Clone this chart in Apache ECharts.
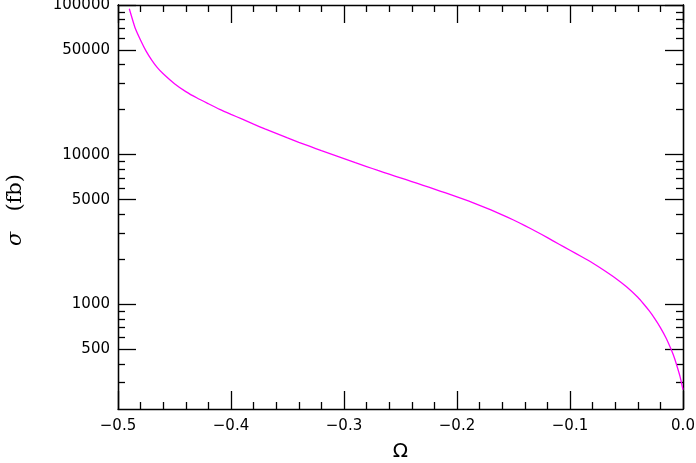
<!DOCTYPE html>
<html>
<head>
<meta charset="utf-8">
<script src="https://cdn.jsdelivr.net/npm/echarts@6/dist/echarts.min.js"></script>
<style>
  html, body { margin: 0; padding: 0; background: #fff; }
  #main { width: 696px; height: 463px; }
</style>
</head>
<body>
<div id="main"></div>
<script>
// values
const omega = [-0.49, -0.485, -0.48, -0.475, -0.47, -0.465, -0.46, -0.45, -0.44, -0.43,
  -0.42, -0.41, -0.40, -0.39, -0.38, -0.37, -0.36, -0.35, -0.34, -0.33,
  -0.32, -0.31, -0.30, -0.29, -0.28, -0.27, -0.26, -0.25, -0.24, -0.23,
  -0.22, -0.21, -0.20, -0.19, -0.18, -0.17, -0.16, -0.15, -0.14, -0.13,
  -0.12, -0.11, -0.10, -0.09, -0.08, -0.07, -0.06, -0.05, -0.04, -0.035,
  -0.03, -0.025, -0.02, -0.015, -0.01, -0.0075, -0.005, -0.0025, 0.0]
const sigma = [94400, 70800, 58200, 49000, 42700, 38000, 34700, 29800, 26400, 23900,
  21900, 20100, 18600, 17260, 16000, 14860, 13870, 12940, 12100, 11350,
  10640, 10000, 9400, 8840, 8330, 7850, 7410, 7000, 6610, 6240,
  5890, 5550, 5220, 4910, 4590, 4280, 3960, 3660, 3360, 3070,
  2790, 2530, 2300, 2090, 1890, 1690, 1500, 1310, 1115, 1010,
  908, 804, 700, 596, 490, 437, 380, 327, 269]

const yMajor = [500, 1000, 5000, 10000, 50000, 100000]
const yMinor = [300, 400, 600, 700, 800, 900, 2000, 3000, 4000, 6000, 7000, 8000, 9000,
  20000, 30000, 40000, 60000, 70000, 80000, 90000]

const font = 'DejaVu Sans'
const line = { show: true, onZero: false, lineStyle: { color: '#000', width: 1.3 } }
const tickStyle = { color: '#000', width: 1.3 }

function fmtX(v) {
  return v.toFixed(1).replace('-', '\u2212')
}

function xAxis(position, labels) {
  return {
    type: 'value',
    position,
    min: -0.5,
    max: 0,
    interval: 0.1,
    axisLine: line,
    axisTick: { show: true, inside: true, length: 18, lineStyle: tickStyle },
    minorTick: { show: true, splitNumber: 5, length: 7, lineStyle: tickStyle },
    splitLine: { show: false },
    axisLabel: { show: labels, formatter: fmtX, color: '#000', fontFamily: font, fontSize: 15, margin: 10 },
  }
}

function yAxis(position, ticks, len, labels) {
  return {
    type: 'log',
    logBase: 10,
    position,
    min: 200,
    max: 100000,
    axisLine: line,
    axisTick: { show: true, inside: true, length: len, customValues: ticks, lineStyle: tickStyle },
    minorTick: { show: false },
    splitLine: { show: false },
    axisLabel: { show: labels, customValues: ticks, color: '#000', fontFamily: font,
      fontSize: 15, margin: 8, formatter: v => String(Math.round(v)) },
  }
}

const chart = echarts.init(document.getElementById('main'))

const xs = [xAxis('bottom', true), xAxis('top', false)]
xs[0].name = '\u03a9'
xs[0].nameLocation = 'middle'
xs[0].nameGap = 33
xs[0].nameTextStyle = { color: '#000', fontFamily: font, fontSize: 20 }

const ys = [
  yAxis('left', yMajor, 18, true),
  yAxis('left', yMinor, 7, false),
  yAxis('right', yMajor, 18, false),
  yAxis('right', yMinor, 7, false),
]
ys[0].name = '{i|\u03c3}   (fb)'
ys[0].nameLocation = 'middle'
ys[0].nameGap = 92
ys[0].nameTextStyle = {
  color: '#000', fontFamily: 'DejaVu Serif', fontSize: 21, padding: [0, 6, 0, 0],
  rich: { i: { fontStyle: 'italic', fontFamily: 'DejaVu Serif', fontSize: 21, color: '#000' } },
}

chart.setOption({
  animation: false,
  backgroundColor: '#fff',
  grid: { left: 118, right: 13, top: 5, bottom: 54, containLabel: false, outerBoundsMode: 'none' },
  xAxis: xs,
  yAxis: ys,
  series: [{
    type: 'line',
    xAxisIndex: 0,
    yAxisIndex: 0,
    data: omega.map((x, i) => [x, sigma[i]]),
    smooth: 0.15,
    showSymbol: false,
    lineStyle: { color: '#ff00ff', width: 1.3 },
  }],
})
</script>
</body>
</html>
